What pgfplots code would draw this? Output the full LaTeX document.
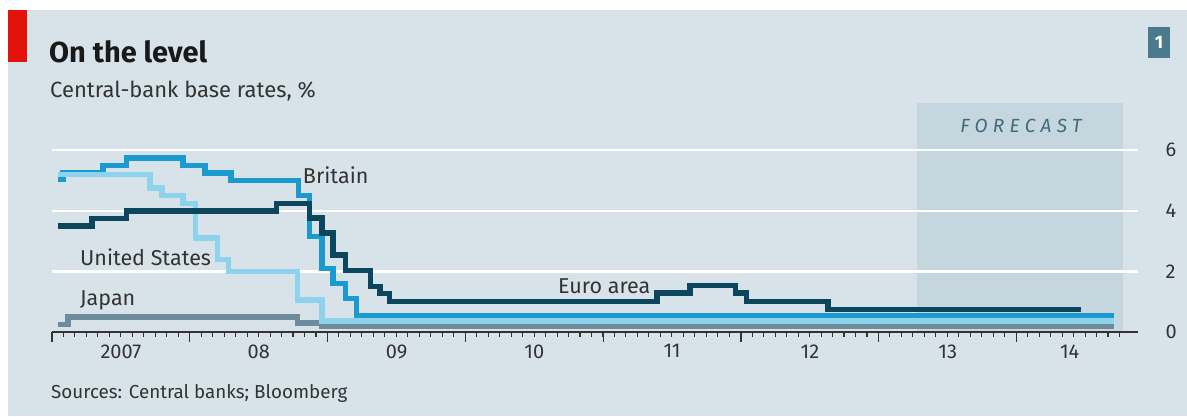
\documentclass[border=0pt]{standalone}
\usepackage{fontspec}
\setmainfont{Fira Sans}
\usepackage{pgfplots}
\pgfplotsset{compat=1.18}
\definecolor{bg}{HTML}{D7E3E9}
\definecolor{fc}{HTML}{C6D6DF}
\definecolor{ecored}{HTML}{E3120B}
\definecolor{euro}{HTML}{0C465C}
\definecolor{brit}{HTML}{1A9ACF}
\definecolor{usa}{HTML}{8DD3EC}
\definecolor{jap}{HTML}{6E8C9B}
\definecolor{txt}{HTML}{333333}
\definecolor{boxc}{HTML}{4B7A8F}
\begin{document}
\begin{tikzpicture}
\begin{axis}[
  set layers,
  /pgf/number format/assume math mode=true,
  at={(52pt,84pt)}, anchor=south west, scale only axis,
  width=1086pt, height=229pt,
  xmin=2007, xmax=2014.881, ymin=0, ymax=7.56,
  axis x line*=bottom, axis y line*=right,
  x axis line style={draw=txt, line width=1.2pt},
  y axis line style={draw=none},
  xtick={2007,2008,...,2014}, xticklabels={},
  minor xtick={2007.0833333,2007.1666667,...,2014.76},
  tick align=outside,
  major tick length=10pt, minor tick length=4.5pt,
  xtick style={draw=txt, line width=1.1pt},
  minor tick style={draw=txt, line width=1pt},
  extra x ticks={2007.5,2008.5,2009.5,2010.5,2011.5,2012.5,2013.5,2014.385},
  extra x tick labels={\mbox{2007},\mbox{08},\mbox{09},\mbox{10},\mbox{11},\mbox{12},\mbox{13},\mbox{14}},
  extra x tick style={major tick length=0pt, grid=none, tick style={draw=none},
     xticklabel style={yshift=-9pt}},
  xticklabel style={font=\fontsize{20}{22}\selectfont, text=txt},
  ytick={0,2,4,6},
  yticklabels={\mbox{0},\mbox{2},\mbox{4},\mbox{6}},
  ytick style={draw=none},
  yticklabel style={font=\fontsize{20}{22}\selectfont, text=txt, anchor=west, xshift=14pt},
  ymajorgrids, grid style={white, line width=2.5pt},
  clip=false,
  every axis plot/.append style={const plot, mark=none, line width=5.5pt, line join=miter, line cap=butt},
]
\begin{pgfonlayer}{axis background}
\fill[white] ([shift={(-52pt,-84pt)}]rel axis cs:0,0) rectangle ([shift={(1135pt,332pt)}]rel axis cs:0,0);
\fill[bg] ([shift={(-44pt,-84pt)}]rel axis cs:0,0) rectangle ([shift={(1135pt,322pt)}]rel axis cs:0,0);
\fill[fc] (axis cs:2013.28,0) rectangle (axis cs:2014.77,7.56);
\end{pgfonlayer}
% Japan
\addplot[color=jap] coordinates {
(2007.04,0.25) (2007.115,0.5) (2008.78,0.3) (2008.96,0.2) (2014.71,0.2)};
% Britain
\addplot[color=brit] coordinates {
(2007.04,5.05) (2007.08,5.25) (2007.37,5.5) (2007.54,5.75) (2007.95,5.5)
(2008.11,5.25) (2008.30,5.0) (2008.79,4.5) (2008.87,3.15) (2008.96,2.1)
(2009.04,1.6) (2009.13,1.1) (2009.21,0.52) (2014.71,0.52)};
% United States
\addplot[color=usa] coordinates {
(2007.04,5.2) (2007.71,4.75) (2007.80,4.5) (2007.95,4.25) (2008.04,3.1)
(2008.20,2.4) (2008.28,2.0) (2008.78,1.05) (2008.96,0.36) (2014.71,0.36)};
% Euro area
\addplot[color=euro] coordinates {
(2007.04,3.5) (2007.29,3.75) (2007.54,4.0) (2008.63,4.25) (2008.87,3.77)
(2008.96,3.27) (2009.04,2.55) (2009.13,2.03) (2009.31,1.5) (2009.38,1.27)
(2009.45,1.0) (2011.39,1.28) (2011.63,1.53) (2011.96,1.28) (2012.04,1.0)
(2012.63,0.74) (2014.47,0.74)};
\node[anchor=west, inner sep=0, font=\fontsize{21.5}{23}\selectfont, text=txt] at (axis cs:2008.82,5.18) {Britain};
\node[anchor=west, inner sep=0, font=\fontsize{21.5}{23}\selectfont, text=txt] at (axis cs:2007.203,2.48) {United States};
\node[anchor=base west, inner sep=0, font=\fontsize{21.5}{23}\selectfont, text=txt] at (axis cs:2007.203,0.89) {Japan};
\node[anchor=west, inner sep=0, font=\fontsize{21.5}{23}\selectfont, text=txt] at (axis cs:2010.672,1.52) {Euro area};
\node[inner sep=0, font=\fontsize{19}{21}\selectfont\itshape\addfontfeature{LetterSpace=28}, text=euro!80] at (axis cs:2014.032,6.8) {FORECAST};
\end{axis}
\begin{scope}[x=1pt,y=1pt]
\fill[ecored] (8,354) rectangle (27,406);
\node[anchor=base west, inner sep=0, font=\fontsize{29}{31}\selectfont\bfseries, text=black!90] at (49,353) {On the level};
\node[anchor=base west, inner sep=0, font=\fontsize{22}{24}\selectfont, text=txt] at (50,319) {Central-bank base rates, \%};
\fill[boxc] (1148,358) rectangle (1170,389);
\node[font=\fontsize{18}{20}\selectfont\bfseries, text=white] at (1159,373.5) {1};
\node[anchor=base west, inner sep=0, font=\fontsize{18.8}{20}\selectfont, text=txt] at (51,18) {Sources: Central banks; Bloomberg};
\end{scope}
\end{tikzpicture}
\end{document}
